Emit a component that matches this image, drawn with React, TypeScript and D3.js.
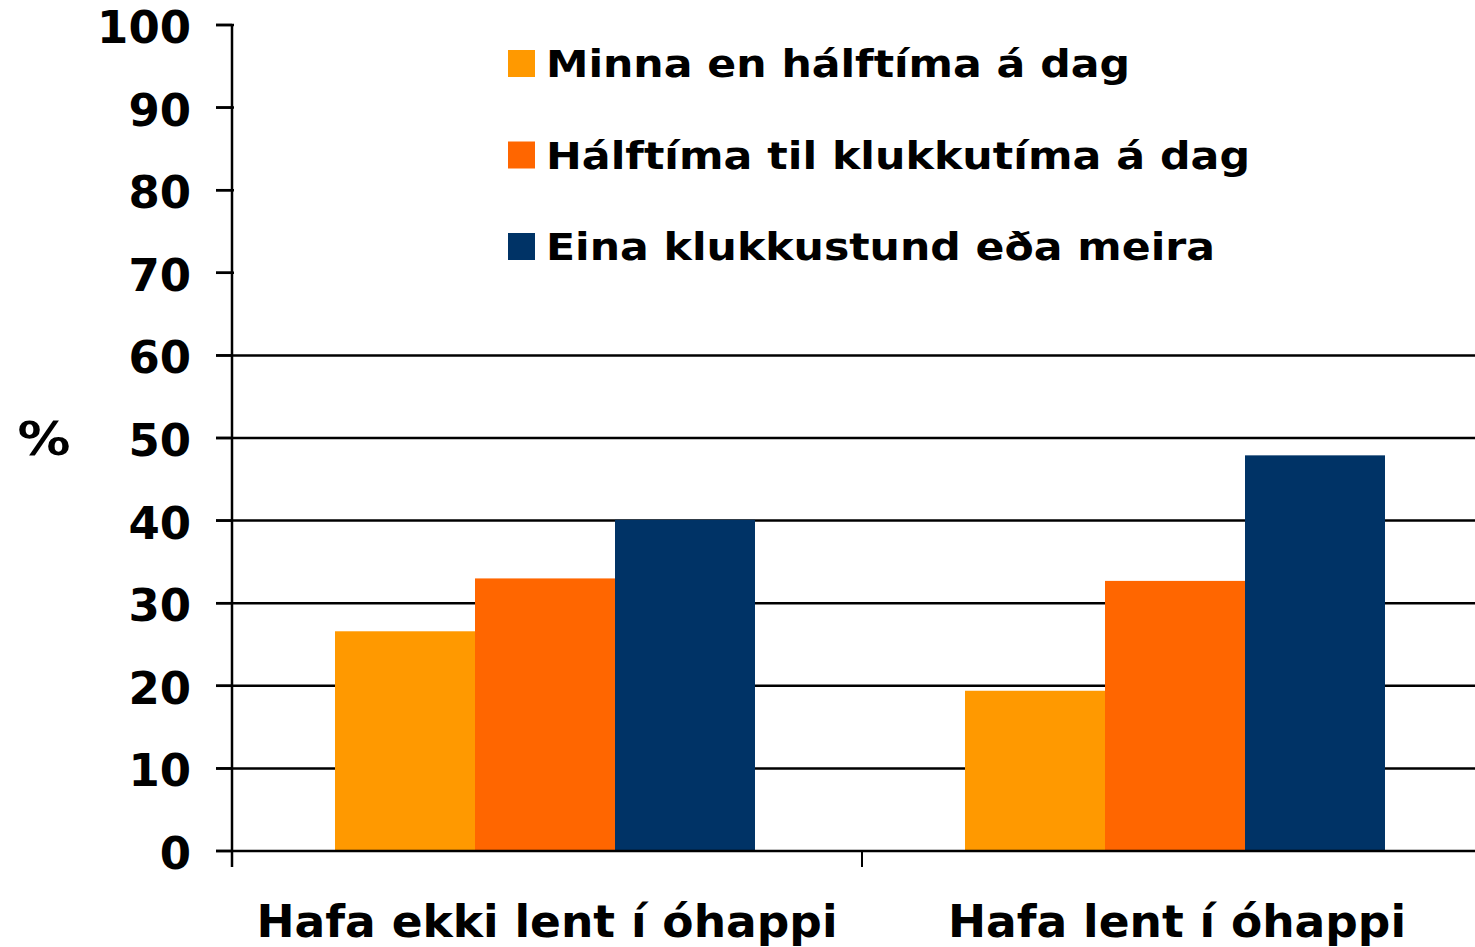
import { useEffect, useRef } from 'react';
import * as d3 from 'd3';

const categories = ['Hafa ekki lent í óhappi', 'Hafa lent í óhappi'];
const seriesNames = ['Minna en hálftíma á dag', 'Hálftíma til klukkutíma á dag', 'Eina klukkustund eða meira'];
const seriesColors = ['#FF9900', '#FF6600', '#003366'];
const minnaValues = [26.6, 19.4];
const halftimaValues = [33.0, 32.7];
const klukkustundValues = [40.1, 47.9];
const yTicks = [0, 10, 20, 30, 40, 50, 60, 70, 80, 90, 100];

const FONT = '"DejaVu Sans", Verdana, sans-serif';

export default function App() {
  const svgRef = useRef<SVGSVGElement>(null);

  useEffect(() => {
    const W = 1475;
    const H = 947;
    const left = 232;
    const right = 1492;
    const top = 25;
    const bottom = 851;

    const svg = d3.select(svgRef.current);
    svg.selectAll('*').remove();

    const values = [minnaValues, halftimaValues, klukkustundValues];
    const rows = categories.map((c, i) => ({
      cat: c,
      vals: seriesNames.map((s, j) => ({ key: s, value: values[j][i], color: seriesColors[j] })),
    }));

    const y = d3.scaleLinear().domain([0, 100]).range([bottom, top]);
    const x0 = d3.scaleBand().domain(categories).range([left, right]).padding(0);
    const bw = x0.bandwidth();
    // bar cluster sits slightly left of band centre
    const x1 = d3.scaleBand().domain(seriesNames).range([bw / 6 - 2, (bw * 5) / 6 - 2]).padding(0);

    // gridlines
    svg
      .append('g')
      .selectAll('line')
      .data(yTicks.filter((d) => d > 0))
      .enter()
      .append('line')
      .attr('x1', left - 16)
      .attr('x2', right)
      .attr('y1', (d) => y(d))
      .attr('y2', (d) => y(d))
      .attr('stroke', '#000')
      .attr('stroke-width', 2.5);

    // legend box (white, hides upper gridlines)
    const legend = svg.append('g');
    legend
      .append('rect')
      .attr('x', left + 2)
      .attr('y', 14)
      .attr('width', right - left)
      .attr('height', 300)
      .attr('fill', '#fff');

    // tick marks left of the axis
    svg
      .append('g')
      .selectAll('line')
      .data(yTicks)
      .enter()
      .append('line')
      .attr('x1', left - 16)
      .attr('x2', left)
      .attr('y1', (d) => y(d))
      .attr('y2', (d) => y(d))
      .attr('stroke', '#000')
      .attr('stroke-width', 2.5);

    const legendWidths = [584, 704, 669];
    seriesNames.forEach((s, i) => {
      const ly = 50 + i * 91.5;
      legend
        .append('rect')
        .attr('x', 508)
        .attr('y', ly)
        .attr('width', 27)
        .attr('height', 27)
        .attr('fill', seriesColors[i]);
      legend
        .append('text')
        .attr('x', 546)
        .attr('y', ly + 27)
        .attr('font-family', FONT)
        .attr('font-weight', 'bold')
        .attr('font-size', 37)
        .attr('textLength', legendWidths[i])
        .attr('lengthAdjust', 'spacingAndGlyphs')
        .text(s);
    });

    // bars
    const groups = svg
      .append('g')
      .selectAll('g')
      .data(rows)
      .enter()
      .append('g')
      .attr('transform', (d) => `translate(${x0(d.cat)},0)`);

    groups
      .selectAll('rect')
      .data((d) => d.vals)
      .enter()
      .append('rect')
      .attr('x', (d) => x1(d.key) as number)
      .attr('width', x1.bandwidth())
      .attr('y', (d) => y(d.value))
      .attr('height', (d) => bottom - y(d.value))
      .attr('fill', (d) => d.color);

    // y axis line
    svg
      .append('line')
      .attr('x1', left)
      .attr('x2', left)
      .attr('y1', top)
      .attr('y2', bottom + 16)
      .attr('stroke', '#000')
      .attr('stroke-width', 2.5);

    // x axis line
    svg
      .append('line')
      .attr('x1', left - 16)
      .attr('x2', right)
      .attr('y1', bottom)
      .attr('y2', bottom)
      .attr('stroke', '#000')
      .attr('stroke-width', 2.5);

    // category tick marks
    svg
      .append('g')
      .selectAll('line')
      .data([...categories.map((c) => x0(c) as number), right])
      .enter()
      .append('line')
      .attr('x1', (d) => d)
      .attr('x2', (d) => d)
      .attr('y1', bottom)
      .attr('y2', bottom + 16)
      .attr('stroke', '#000')
      .attr('stroke-width', 2);

    // y tick labels
    svg
      .append('g')
      .selectAll('text')
      .data(yTicks)
      .enter()
      .append('text')
      .attr('x', 191)
      .attr('y', (d) => y(d) + 18)
      .attr('text-anchor', 'end')
      .attr('font-family', FONT)
      .attr('font-weight', 'bold')
      .attr('font-size', 44)
      .attr('textLength', (d) => String(d).length * 31.3)
      .attr('lengthAdjust', 'spacingAndGlyphs')
      .text((d) => d);

    // y axis title
    svg
      .append('text')
      .attr('x', 44)
      .attr('y', 455)
      .attr('text-anchor', 'middle')
      .attr('font-family', FONT)
      .attr('font-weight', 'bold')
      .attr('font-size', 46)
      .attr('textLength', 53)
      .attr('lengthAdjust', 'spacingAndGlyphs')
      .text('%');

    // category labels
    const catWidths = [581, 458];
    svg
      .append('g')
      .selectAll('text')
      .data(categories)
      .enter()
      .append('text')
      .attr('x', (d) => (x0(d) as number) + bw / 2)
      .attr('y', 937)
      .attr('text-anchor', 'middle')
      .attr('font-family', FONT)
      .attr('font-weight', 'bold')
      .attr('font-size', 44)
      .attr('textLength', (d, i) => catWidths[i])
      .attr('lengthAdjust', 'spacingAndGlyphs')
      .text((d) => d);

    svg.attr('width', W).attr('height', H);
  }, []);

  return (
    <svg
      ref={svgRef}
      width={1475}
      height={947}
      style={{ position: 'absolute', left: 0, top: 0, background: '#fff' }}
    />
  );
}
